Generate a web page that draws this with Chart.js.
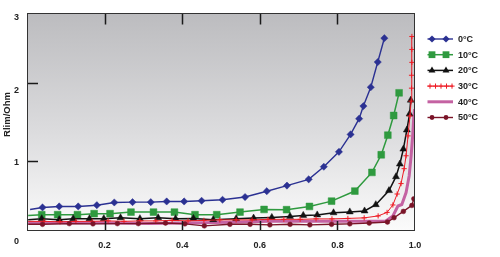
<!DOCTYPE html>
<html>
<head>
<meta charset="utf-8">
<script src="https://cdn.jsdelivr.net/npm/chart.js@4"></script>
<style>
html,body{margin:0;padding:0;background:#fff;}
#wrap{width:500px;height:257px;position:relative;}
</style>
</head>
<body>
<div id="wrap"><canvas id="c" width="500" height="257"></canvas></div>
<script>
// ---- data ----
const seriesLabels = ['0°C','10°C','20°C','30°C','40°C','50°C'];
const xTickVals = [0.2,0.4,0.6,0.8,1.0];
const yTickLabels = ['0','1','2','3'];
const yTickPos = [-0.04,0.98,1.91,2.85];
const yMarkVals = [1,2];

const t0x = [0.008,0.040,0.083,0.132,0.180,0.225,0.272,0.319,0.360,0.405,0.450,0.504,0.562,0.618,0.670,0.726,0.765,0.804,0.834,0.856,0.867,0.886,0.904,0.921];
const t0y = [0.377,0.403,0.416,0.416,0.432,0.467,0.471,0.471,0.480,0.480,0.489,0.502,0.537,0.612,0.684,0.765,0.927,1.119,1.343,1.545,1.707,1.950,2.274,2.581];

const t10x = [0.003,0.038,0.079,0.130,0.173,0.214,0.268,0.326,0.380,0.433,0.489,0.549,0.611,0.669,0.728,0.785,0.845,0.889,0.913,0.930,0.945,0.959];
const t10y = [0.301,0.310,0.310,0.310,0.323,0.323,0.343,0.343,0.343,0.310,0.310,0.343,0.377,0.374,0.416,0.484,0.614,0.854,1.081,1.333,1.586,1.878];

const t20x = [0.003,0.038,0.083,0.119,0.161,0.198,0.241,0.291,0.338,0.383,0.429,0.480,0.539,0.584,0.631,0.678,0.712,0.748,0.790,0.832,0.870,0.899,0.933,0.951,0.961,0.970,0.979,0.986,0.989];
const t20y = [0.246,0.259,0.246,0.259,0.259,0.259,0.271,0.259,0.271,0.259,0.262,0.246,0.259,0.266,0.275,0.288,0.301,0.307,0.335,0.346,0.358,0.439,0.620,0.799,0.962,1.154,1.400,1.605,1.784];

const t30x = [0.003,0.044,0.085,0.126,0.168,0.209,0.250,0.291,0.332,0.374,0.415,0.456,0.497,0.539,0.580,0.621,0.662,0.704,0.745,0.786,0.827,0.869,0.905,0.928,0.943,0.954,0.964,0.972,0.977,0.982,0.987,0.990,0.991,0.991,0.992,0.992,0.992];
const t30y = [0.224,0.224,0.218,0.224,0.224,0.230,0.224,0.230,0.230,0.237,0.230,0.237,0.243,0.243,0.243,0.250,0.250,0.250,0.256,0.256,0.262,0.269,0.294,0.339,0.435,0.576,0.710,0.902,1.068,1.324,1.580,1.771,1.938,2.104,2.270,2.436,2.603];

const t40x = [0.003,0.188,0.317,0.446,0.523,0.626,0.755,0.858,0.923,0.943,0.956,0.966,0.977,0.985,0.990,0.994,0.997,0.999];
const t40y = [0.205,0.205,0.198,0.205,0.211,0.224,0.224,0.224,0.224,0.294,0.422,0.441,0.595,0.812,1.068,1.324,1.580,1.669];

const t50x = [0.003,0.040,0.109,0.170,0.233,0.287,0.357,0.407,0.457,0.523,0.575,0.626,0.678,0.729,0.785,0.832,0.882,0.929,0.946,0.970,0.992,0.997];
const t50y = [0.186,0.186,0.195,0.192,0.195,0.195,0.202,0.192,0.166,0.186,0.186,0.179,0.186,0.179,0.186,0.192,0.202,0.215,0.271,0.352,0.429,0.514];

const xs = [t0x,t10x,t20x,t30x,t40x,t50x];
const ys = [t0y,t10y,t20y,t30y,t40y,t50y];

// ---- styles ----
const colors = ['#2b3192','#2f9a3f','#111111','#ee1c25','#c462a2','#7a1428'];
const styles = ['rectRot','rect','triangle','cross',false,'circle'];
const radii = [3.6,4.8,4.0,2.6,0,2.4];
const widths = [1.4,1.5,1.5,1.0,3.0,1.4];
const FONT = '"Liberation Sans", Arial, sans-serif';

const datasets = seriesLabels.map((lab,i)=>({
  label: lab,
  data: xs[i].map((x,j)=>({x:x, y:ys[i][j]})),
  borderColor: colors[i],
  backgroundColor: colors[i],
  borderWidth: widths[i],
  pointStyle: styles[i],
  pointRadius: (ctx)=> ctx.dataIndex===0 ? 0 : radii[i],
  pointBorderWidth: styles[i]==='cross' ? 1 : 0.5,
  pointBorderColor: colors[i],
  pointBackgroundColor: colors[i],
  pointHoverRadius: 0,
  tension: 0,
  fill: false,
  order: [5,4,3,2,6,1][i]
}));

function marker(ctx, style, x, y, r, col){
  ctx.save();
  ctx.fillStyle = col; ctx.strokeStyle = col; ctx.lineWidth = 1;
  ctx.beginPath();
  if(style==='rectRot'){ ctx.moveTo(x-r,y); ctx.lineTo(x,y-r); ctx.lineTo(x+r,y); ctx.lineTo(x,y+r); ctx.closePath(); ctx.fill(); }
  else if(style==='rect'){ const s=Math.SQRT1_2*r; ctx.rect(x-s,y-s,2*s,2*s); ctx.fill(); }
  else if(style==='triangle'){ for(let k=0;k<3;k++){const a=k*2*Math.PI/3; const px=x+Math.sin(a)*r, py=y-Math.cos(a)*r; if(k===0)ctx.moveTo(px,py); else ctx.lineTo(px,py);} ctx.closePath(); ctx.fill(); }
  else if(style==='circle'){ ctx.arc(x,y,r,0,Math.PI*2); ctx.fill(); }
  else if(style==='cross'){ ctx.moveTo(x-r,y); ctx.lineTo(x+r,y); ctx.moveTo(x,y-r); ctx.lineTo(x,y+r); ctx.stroke(); }
  ctx.restore();
}

const framePlugin = {
  id: 'frame',
  beforeDatasetsDraw(chart){
    const {ctx, chartArea:a} = chart;
    const g = ctx.createLinearGradient(0,a.top,0,a.bottom);
    g.addColorStop(0,'#bcbcbf');
    g.addColorStop(0.55,'#dcdcde');
    g.addColorStop(1,'#fbfbfb');
    ctx.save();
    ctx.fillStyle = g;
    ctx.fillRect(a.left,a.top,a.right-a.left,a.bottom-a.top);
    ctx.restore();
  },
  afterDatasetsDraw(chart){
    const {ctx, chartArea:a, scales} = chart;
    ctx.save();
    ctx.strokeStyle = '#1a1a1a';
    ctx.lineWidth = 1.5;
    ctx.beginPath();
    [0.2,0.4,0.6,0.8].forEach(v=>{
      const px = Math.round(scales.x.getPixelForValue(v))+0.5;
      ctx.moveTo(px,a.top); ctx.lineTo(px,a.top+11);
      ctx.moveTo(px,a.bottom); ctx.lineTo(px,a.bottom-10);
    });
    yMarkVals.forEach(v=>{
      const py = Math.round(scales.y.getPixelForValue(v))+0.5;
      ctx.moveTo(a.left,py); ctx.lineTo(a.left+11,py);
    });
    ctx.stroke();
    ctx.lineWidth = 1;
    ctx.strokeStyle = '#333';
    ctx.strokeRect(Math.round(a.left)+0.5,Math.round(a.top)+0.5,Math.round(a.right-a.left)-1,Math.round(a.bottom-a.top)-1);
    // y title
    ctx.fillStyle = '#222';
    ctx.font = 'bold 9.5px ' + FONT;
    ctx.textAlign = 'center'; ctx.textBaseline = 'middle';
    ctx.translate(7.5,114.5); ctx.rotate(-Math.PI/2);
    ctx.fillText('Rlim/Ohm',0,0);
    ctx.restore();
    // legend
    ctx.save();
    chart.data.datasets.forEach((ds,i)=>{
      const y = 39 + i*15.7;
      ctx.strokeStyle = ds.borderColor;
      ctx.lineWidth = ds.borderWidth;
      ctx.beginPath(); ctx.moveTo(427.5,y); ctx.lineTo(453,y); ctx.stroke();
      if(styles[i]==='cross'){
        [430,435.5,441,446.5,452].forEach(px=>marker(ctx,'cross',px,y,2.6,colors[i]));
      } else if(styles[i]){
        [432,446].forEach(px=>marker(ctx,styles[i],px,y,radii[i],colors[i]));
      }
      ctx.fillStyle = '#222';
      ctx.font = 'bold 9px ' + FONT;
      ctx.textAlign = 'left'; ctx.textBaseline = 'middle';
      ctx.fillText(ds.label, 458, y+0.5);
    });
    ctx.restore();
  }
};

new Chart(document.getElementById('c'), {
  type: 'line',
  data: { datasets },
  options: {
    responsive: false,
    animation: false,
    events: [],
    layout: { padding: { top: 12, right: 85, left: 0, bottom: 0 } },
    plugins: { legend: { display: false }, tooltip: { enabled: false } },
    scales: {
      x: {
        type: 'linear', min: 0, max: 1,
        grid: { display: false, drawTicks: false },
        border: { display: false },
        afterBuildTicks: (s)=>{ s.ticks = xTickVals.map(v=>({value:v})); },
        afterFit: (s)=>{ s.height = 26; },
        ticks: {
          padding: 9,
          color: '#222',
          font: { family: FONT, size: 9, weight: 'bold' },
          maxRotation: 0, autoSkip: false,
          callback: (v)=> Number(v).toFixed(1)
        }
      },
      y: {
        type: 'linear', min: 0.1, max: 2.9,
        grid: { display: false, drawTicks: false },
        border: { display: false },
        afterBuildTicks: (s)=>{ s.ticks = yTickPos.map(v=>({value:v})); },
        afterFit: (s)=>{ s.width = 27; },
        ticks: {
          padding: 8,
          color: '#222',
          autoSkip: false,
          font: { family: FONT, size: 9, weight: 'bold' },
          callback: (v,i)=> yTickLabels[i]
        }
      }
    }
  },
  plugins: [framePlugin]
});
</script>
</body>
</html>
